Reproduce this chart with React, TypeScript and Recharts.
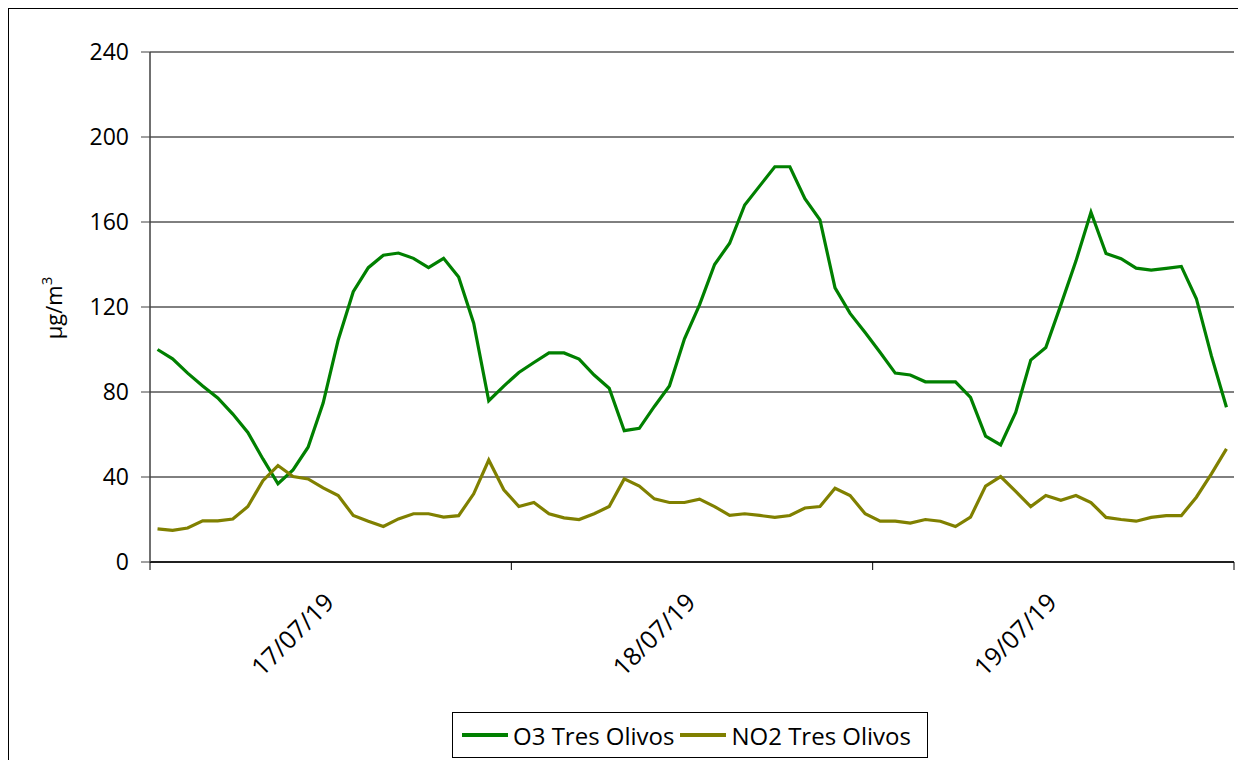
import React from 'react';
import { LineChart, Line, XAxis, YAxis, CartesianGrid, ReferenceLine } from 'recharts';

// hourly values, 17/07/19 00h .. 19/07/19 23h
const o3Values = [
  100, 95.6, 88.9, 82.8, 77.2, 69.6, 61, 48.5, 36.8, 43.3, 54, 74.8,
  104.5, 127.2, 138.5, 144.4, 145.4, 142.9, 138.5, 142.9, 134.1, 112.4, 75.9, 82.8,
  89.2, 93.9, 98.4, 98.4, 95.5, 88, 81.8, 61.8, 62.9, 73.2, 82.8, 105,
  121, 140, 150, 168, 177, 186, 186, 171, 161, 129, 117, 108,
  98.6, 88.9, 88, 84.8, 84.8, 84.8, 77.5, 59.2, 55.1, 70.4, 95, 100.9,
  121, 141.6, 164.6, 145.2, 142.7, 138.3, 137.4, 138.2, 139.1, 123.9, 97, 72.8,
];

const no2Values = [
  15.6, 14.9, 16, 19.4, 19.4, 20.2, 26.1, 38.3, 45.4, 40.2, 39.1, 34.9,
  31.3, 21.9, 19.2, 16.7, 20.3, 22.7, 22.7, 21.1, 21.8, 32.1, 48, 34,
  26.1, 28, 22.7, 20.8, 20, 22.7, 26.1, 39.1, 35.7, 29.7, 28, 28,
  29.6, 26.1, 21.9, 22.7, 21.9, 21, 21.9, 25.4, 26.1, 34.7, 31.3, 22.7,
  19.2, 19.2, 18.3, 20, 19.2, 16.7, 21.1, 35.7, 40.2, 33.2, 26.1, 31.3,
  29, 31.3, 28, 21, 20, 19.2, 21, 21.8, 21.8, 30.5, 41.5, 53.2,
];

const dayLabels = ['17/07/19', '18/07/19', '19/07/19'];
const yTicks = [0, 40, 80, 120, 160, 200, 240];

const seriesNames = { o3: 'O3 Tres Olivos', no2: 'NO2 Tres Olivos' };
const O3_COLOR = '#008000';
const NO2_COLOR = '#808000';
const FONT = '"Open Sans", sans-serif';

const data = o3Values.map((v, i) => ({ hour: i, o3: v, no2: no2Values[i] }));

// day boundaries get a tick mark, day centres get the date label
const boundaryTicks = dayLabels.map((_, d) => d * 24 - 0.5).concat([dayLabels.length * 24 - 0.5]);
const centreTicks = dayLabels.map((_, d) => d * 24 + 11.5);
const xTicks = [...boundaryTicks, ...centreTicks].sort((a, b) => a - b);

function DayTick(props: any) {
  const { x, y, payload } = props;
  const v = payload.value;
  const ci = centreTicks.indexOf(v);
  if (ci < 0) {
    return <line x1={x} y1={y} x2={x} y2={y + 8} stroke="#000" strokeWidth={1} />;
  }
  const ax = x + 5;
  const ay = y + 42;
  return (
    <text x={ax} y={ay} textAnchor="end" fontSize={25} fill="#000" fontFamily={FONT}
      transform={`rotate(-45, ${ax}, ${ay})`}>
      {dayLabels[ci]}
    </text>
  );
}

function UnitLabel() {
  const cx = 53;
  const cy = 299;
  return (
    <text x={cx} y={cy} textAnchor="middle" fontSize={22} fill="#000" fontFamily={FONT}
      transform={`rotate(-90, ${cx}, ${cy})`}>
      µg/m<tspan dy={-10} fontSize={15}>3</tspan>
    </text>
  );
}

function LegendBox() {
  const items = [
    { name: seriesNames.o3, color: O3_COLOR },
    { name: seriesNames.no2, color: NO2_COLOR },
  ];
  return (
    <div style={{
      position: 'absolute', left: 443, top: 703, width: 476, height: 46,
      border: '1px solid #000', boxSizing: 'border-box', display: 'flex',
      alignItems: 'center', paddingLeft: 9, fontFamily: FONT, fontSize: 24, background: '#fff',
    }}>
      {items.map(it => (
        <div key={it.name} style={{ display: 'flex', alignItems: 'center', marginRight: 6 }}>
          <span style={{ display: 'inline-block', width: 46, height: 4, background: it.color, marginRight: 5 }} />
          <span style={{ whiteSpace: 'nowrap' }}>{it.name}</span>
        </div>
      ))}
    </div>
  );
}

export default function App() {
  return (
    <div style={{ position: 'relative', width: 1236, height: 752, border: '1px solid #000', background: '#fff' }}>
      <LineChart width={1236} height={752} data={data}
        margin={{ top: 43, right: 11, left: 0, bottom: 79 }}
        style={{ fontFamily: FONT }}>
        <CartesianGrid vertical={false} stroke="#000" strokeWidth={1} />
        <ReferenceLine y={240} stroke="#808080" strokeWidth={1.5} />
        <XAxis dataKey="hour" type="number" domain={[-0.5, 71.5]} ticks={xTicks}
          interval={0} tickLine={false} tickSize={0} tickMargin={0} height={120}
          axisLine={{ stroke: '#000', strokeWidth: 1.5 }} tick={<DayTick />} />
        <YAxis domain={[0, 240]} ticks={yTicks} width={141} tickSize={9} tickMargin={12}
          axisLine={{ stroke: '#404040', strokeWidth: 1.5 }} tickLine={{ stroke: '#404040' }}
          tick={{ fill: '#000', fontSize: 23, fontFamily: FONT }}
          label={<UnitLabel />} />
        <YAxis yAxisId="frame" orientation="right" width={0} tick={false} tickLine={false}
          axisLine={{ stroke: '#808080', strokeWidth: 1.5 }} />
        <Line type="linear" dataKey="o3" name={seriesNames.o3} stroke={O3_COLOR}
          strokeWidth={3.2} dot={false} isAnimationActive={false} />
        <Line type="linear" dataKey="no2" name={seriesNames.no2} stroke={NO2_COLOR}
          strokeWidth={3.2} dot={false} isAnimationActive={false} />
      </LineChart>
      <LegendBox />
    </div>
  );
}
